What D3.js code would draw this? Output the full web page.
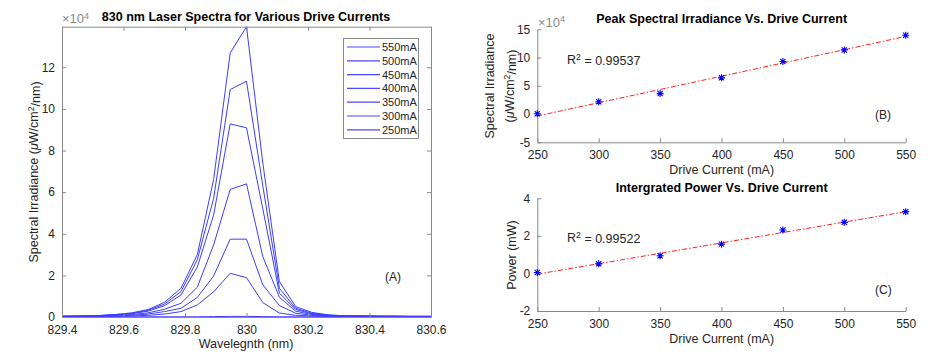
<!DOCTYPE html>
<html><head><meta charset="utf-8">
<script src="https://cdn.jsdelivr.net/npm/d3@7"></script>
<style>
body{margin:0;background:#fff;}
svg{display:block;font-family:"Liberation Sans",Arial,sans-serif;}
</style></head>
<body><svg id="c" width="950" height="356"></svg>
<script>
// ---------- DATA ----------
const wavelengths = [829.36, 829.413, 829.467, 829.52, 829.573, 829.627, 829.68, 829.733, 829.787, 829.84, 829.893, 829.947, 830.0, 830.053, 830.107, 830.16, 830.213, 830.267, 830.32, 830.373, 830.427, 830.48, 830.533, 830.587, 830.64];
const seriesNames = ["550mA","500mA","450mA","400mA","350mA","300mA","250mA"];
// spectral irradiance, units of 1e4 uW/cm^2/nm
const s550 = [0.03,0.04,0.05,0.07,0.12,0.20,0.36,0.70,1.38,3.00,6.60,12.69,13.95,7.40,1.70,0.50,0.22,0.10,0.06,0.05,0.04,0.04,0.03,0.03,0.03];
const s500 = [0.03,0.04,0.05,0.07,0.11,0.18,0.32,0.62,1.22,2.75,5.70,10.93,11.33,6.30,1.38,0.42,0.18,0.09,0.06,0.05,0.04,0.04,0.03,0.03,0.03];
const s450 = [0.03,0.04,0.04,0.06,0.10,0.16,0.28,0.54,1.06,2.40,4.90,9.28,9.09,5.20,1.15,0.36,0.15,0.08,0.05,0.04,0.04,0.03,0.03,0.03,0.03];
const s400 = [0.02,0.03,0.04,0.05,0.08,0.12,0.20,0.37,0.66,1.43,3.46,6.13,6.40,2.90,0.95,0.28,0.12,0.07,0.05,0.04,0.03,0.03,0.03,0.03,0.03];
const s350 = [0.02,0.02,0.03,0.04,0.05,0.08,0.14,0.26,0.42,0.94,1.97,3.74,3.74,1.55,0.55,0.18,0.08,0.05,0.04,0.03,0.03,0.03,0.02,0.02,0.02];
const s300 = [0.01,0.02,0.02,0.03,0.04,0.05,0.08,0.14,0.26,0.58,1.21,2.10,1.89,0.69,0.19,0.08,0.05,0.03,0.03,0.02,0.02,0.02,0.02,0.02,0.02];
const s250 = [0.01,0.01,0.01,0.01,0.01,0.01,0.01,0.01,0.01,0.01,0.02,0.03,0.03,0.02,0.01,0.01,0.01,0.01,0.01,0.01,0.01,0.01,0.01,0.01,0.01];
const spectra = [s550,s500,s450,s400,s350,s300,s250];
const spectraXTicks = [829.4,829.6,829.8,830,830.2,830.4,830.6];
const spectraYTicks = [0,2,4,6,8,10,12];

const driveCurrents = [250,300,350,400,450,500,550];
const peakIrradiance = [0.06,2.17,3.62,6.41,9.30,11.35,13.95]; // x1e4
const integratedPower = [0.05,0.51,0.94,1.56,2.31,2.72,3.29];   // mW
const currentTicks = [250,300,350,400,450,500,550];
const peakYTicks = [-5,0,5,10,15];
const powerYTicks = [-2,0,2,4];
const r2Peak = "0.99537", r2Power = "0.99522";

// ---------- HELPERS ----------
const svg = d3.select("#c");
const TXT = "#262626", AX = "#8a8a8a", BLUE = "#3d3dff";
const fmt = d => String(+d.toFixed(1));

function text(x,y,str,opt={}){
  const t = svg.append("text").attr("x",x).attr("y",y).attr("fill",opt.fill||TXT)
    .attr("font-size",opt.size||12).attr("text-anchor",opt.anchor||"start");
  if(str) t.text(str);
  if(opt.bold) t.attr("font-weight","bold");
  if(opt.rotate) t.attr("transform",`rotate(-90,${x},${y})`);
  return t;
}
function sup(t, base, s, rest){
  t.append("tspan").text(base);
  t.append("tspan").text(s).attr("font-size","0.7em").attr("dy","-0.45em");
  if(rest!==undefined) t.append("tspan").text(rest).attr("dy","0.45em");
  return t;
}
function linFit(xs, ys){
  const mx=d3.mean(xs), my=d3.mean(ys);
  let sxy=0,sxx=0; xs.forEach((x,i)=>{sxy+=(x-mx)*(ys[i]-my); sxx+=(x-mx)**2;});
  const b=sxy/sxx; return x=> my + b*(x-mx);
}
function axesFrame(x, y, xt, yt, box){
  const g = svg.append("g");
  const [x0,x1]=x.range(), [y0,y1]=y.range();
  const bottom = d3.axisBottom(x).tickValues(xt).tickSizeInner(-4).tickSizeOuter(0).tickFormat(fmt).tickPadding(8);
  const left = d3.axisLeft(y).tickValues(yt).tickSizeInner(-4).tickSizeOuter(0).tickFormat(fmt).tickPadding(7);
  g.append("g").attr("transform",`translate(0,${y0})`).call(bottom);
  g.append("g").attr("transform",`translate(${x0},0)`).call(left);
  if(box){
    g.append("g").attr("transform",`translate(0,${y1})`).call(d3.axisTop(x).tickValues(xt).tickSizeInner(-4).tickSizeOuter(0).tickFormat(""));
    g.append("g").attr("transform",`translate(${x1},0)`).call(d3.axisRight(y).tickValues(yt).tickSizeInner(-4).tickSizeOuter(0).tickFormat(""));
  }
  g.selectAll(".domain").attr("stroke",AX).attr("stroke-width",1);
  g.selectAll(".tick line").attr("stroke",AX);
  g.selectAll(".tick text").attr("fill",TXT).attr("font-size",12).attr("font-family","Liberation Sans, Arial, sans-serif");
  return g;
}
function asterisk(g, cx, cy){
  const r=3.5, d=2.6;
  g.append("path").attr("d",`M${cx-r},${cy}H${cx+r}M${cx},${cy-r}V${cy+r}M${cx-d},${cy-d}L${cx+d},${cy+d}M${cx-d},${cy+d}L${cx+d},${cy-d}`)
    .attr("stroke","#0000ff").attr("stroke-width",1.1).attr("fill","none");
}

// ---------- PANEL A ----------
const xA = d3.scaleLinear().domain([829.4,830.6]).range([62,431]);
const yA = d3.scaleLinear().domain([0,13.95]).range([317,26.7]);
svg.append("clipPath").attr("id","clipA").append("rect").attr("x",62).attr("y",26).attr("width",369).attr("height",291.5);
const lineA = d3.line().x((d,i)=>xA(wavelengths[i])).y(d=>yA(d));
const gA = svg.append("g").attr("clip-path","url(#clipA)");
spectra.slice().reverse().forEach(s=>{
  gA.append("path").attr("d",lineA(s)).attr("fill","none").attr("stroke",BLUE).attr("stroke-width",1);
});
axesFrame(xA,yA,spectraXTicks,spectraYTicks,true);
text(246,21,"830 nm Laser Spectra for Various Drive Currents",{bold:true,anchor:"middle",size:12.5,fill:"#000"});
sup(text(62,23,"",{size:13,fill:"#8a8a8a"}),"×10","4");
text(246,348,"Wavelegnth (nm)",{anchor:"middle",size:12.5});
{
  const t=text(38,172,"",{anchor:"middle",size:12.5,rotate:true});
  t.append("tspan").text("Spectral Irradiance (");
  t.append("tspan").text("μ").attr("font-style","italic");
  t.append("tspan").text("W/cm");
  t.append("tspan").text("2").attr("font-size","0.7em").attr("dy","-0.45em");
  t.append("tspan").text("/nm)").attr("dy","0.45em");
}
text(385,281,"(A)",{size:12});
// legend
const lg = svg.append("g");
lg.append("rect").attr("x",343.5).attr("y",38.5).attr("width",75).attr("height",100).attr("fill","#fff").attr("stroke",AX).attr("stroke-width",1);
seriesNames.forEach((n,i)=>{
  const yy = 47 + i*13.8;
  lg.append("line").attr("x1",347).attr("x2",380).attr("y1",yy).attr("y2",yy).attr("stroke","#4a4aff").attr("stroke-width",1.2);
  text(382,yy+4,n,{size:11});
});

// ---------- PANEL B ----------
const xB = d3.scaleLinear().domain([250,550]).range([537.3,905.7]);
const yB = d3.scaleLinear().domain([-5,15]).range([142.3,29.3]);
const fitB = linFit(driveCurrents, peakIrradiance);
axesFrame(xB,yB,currentTicks,peakYTicks,false);
svg.append("path").attr("d",d3.line()([[xB(250),yB(fitB(250))],[xB(550),yB(fitB(550))]]))
  .attr("stroke","#ff2020").attr("stroke-width",1).attr("stroke-dasharray","5,2,1.5,2").attr("fill","none");
const gB = svg.append("g");
driveCurrents.forEach((c,i)=>asterisk(gB,xB(c),yB(peakIrradiance[i])));
text(721.7,23,"Peak Spectral Irradiance Vs. Drive Current",{bold:true,anchor:"middle",size:12.5,fill:"#000"});
sup(text(538,26.5,"",{size:13,fill:"#8a8a8a"}),"×10","4");
text(721.7,174,"Drive Current (mA)",{anchor:"middle",size:12.5});
text(494,86,"Spectral Irradiance",{anchor:"middle",size:12.5,rotate:true});
{
  const t=text(514,86,"",{anchor:"middle",size:12.5,rotate:true});
  t.append("tspan").text("(");
  t.append("tspan").text("μ").attr("font-style","italic");
  t.append("tspan").text("W/cm");
  t.append("tspan").text("2").attr("font-size","0.7em").attr("dy","-0.45em");
  t.append("tspan").text("/nm)").attr("dy","0.45em");
}
sup(text(567,63.5,"",{size:12.5}),"R","2"," = "+r2Peak);
text(875,119,"(B)",{size:12});

// ---------- PANEL C ----------
const xC = d3.scaleLinear().domain([250,550]).range([537.3,905.7]);
const yC = d3.scaleLinear().domain([-2,4]).range([311,198.3]);
const fitC = linFit(driveCurrents, integratedPower);
axesFrame(xC,yC,currentTicks,powerYTicks,false);
svg.append("path").attr("d",d3.line()([[xC(250),yC(fitC(250))],[xC(550),yC(fitC(550))]]))
  .attr("stroke","#ff2020").attr("stroke-width",1).attr("stroke-dasharray","5,2,1.5,2").attr("fill","none");
const gC = svg.append("g");
driveCurrents.forEach((c,i)=>asterisk(gC,xC(c),yC(integratedPower[i])));
text(721.7,192,"Intergrated Power Vs. Drive Current",{bold:true,anchor:"middle",size:12.5,fill:"#000"});
text(721.7,343,"Drive Current (mA)",{anchor:"middle",size:12.5});
text(516,255,"Power (mW)",{anchor:"middle",size:12.5,rotate:true});
sup(text(567,241.5,"",{size:12.5}),"R","2"," = "+r2Power);
text(875,294,"(C)",{size:12});
</script></body></html>
